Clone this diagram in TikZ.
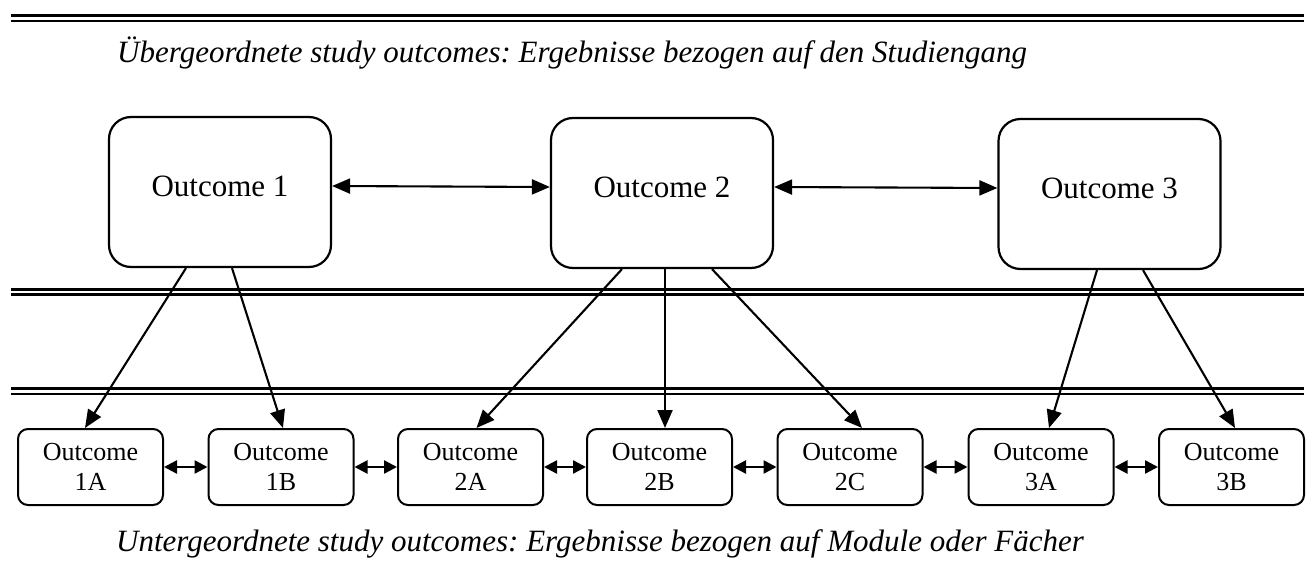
\documentclass[tikz,border=0pt]{standalone}
\usepackage{fontspec}
\setmainfont{Liberation Serif}
\usetikzlibrary{arrows.meta}
\frenchspacing

\begin{document}
\begin{tikzpicture}[x=1pt,y=-1pt,
  bigbox/.style={draw, line width=2.2pt, rounded corners=22pt,
    minimum width=222pt, minimum height=150pt, inner sep=0pt,
    text depth=12pt, font=\fontsize{31}{36}\selectfont},
  smallbox/.style={draw, line width=2pt, rounded corners=10pt,
    minimum width=145pt, minimum height=76pt, inner sep=0pt, align=center,
    font=\fontsize{26}{30}\selectfont},
  down/.style={line width=2.1pt, -{Triangle[length=18pt,width=15pt]}},
  across/.style={line width=2.1pt,
    {Triangle[length=18pt,width=15pt]}-{Triangle[length=18pt,width=15pt]}},
  neighbour/.style={line width=2.4pt,
    {Triangle[length=13pt,width=13pt]}-{Triangle[length=13pt,width=13pt]}},
  rule/.style={line width=2.6pt},
  caption/.style={font=\fontsize{31}{36}\selectfont\itshape,
    anchor=base west, inner sep=0pt}
]
\useasboundingbox (0,0) rectangle (1312,569);

% horizontal double rules
\draw[line width=3pt] (11,15.5) -- (1304,15.5);
\draw[line width=2.2pt] (11,21) -- (1304,21);
\draw[rule] (11,289.5) -- (1304,289.5);
\draw[rule] (11,294.6) -- (1304,294.6);
\draw[rule] (11,388.7) -- (1304,388.7);
\draw[rule] (11,394) -- (1304,394);

% captions
\node[caption] (top) at (117,63)
  {Übergeordnete study outcomes: Ergebnisse bezogen auf den Studiengang};
\node[caption] (bottom) at (116,551)
  {Untergeordnete study outcomes: Ergebnisse bezogen auf Module oder Fächer};

% study-level outcomes
\node[bigbox] (b1) at (220,192) {Outcome 1};
\node[bigbox] (b2) at (662,193) {Outcome 2};
\node[bigbox] (b3) at (1109.5,194) {Outcome 3};

% module-level outcomes
\node[smallbox] (s1a) at (90.5,467) {Outcome\\1A};
\node[smallbox] (s1b) at (281,467) {Outcome\\1B};
\node[smallbox] (s2a) at (470.5,467) {Outcome\\2A};
\node[smallbox] (s2b) at (659.5,467) {Outcome\\2B};
\node[smallbox] (s2c) at (850,467) {Outcome\\2C};
\node[smallbox] (s3a) at (1041,467) {Outcome\\3A};
\node[smallbox] (s3b) at (1231.5,467) {Outcome\\3B};

% links between study-level outcomes
\draw[across] ([yshift=6pt]b1.east) -- ([yshift=6pt]b2.west);
\draw[across] ([yshift=6pt]b2.east) -- ([yshift=6pt]b3.west);

% breakdown into module-level outcomes
\draw[down] ([xshift=-34pt]b1.south) -- ([xshift=-5.5pt]s1a.north);
\draw[down] ([xshift=12pt]b1.south) -- ([xshift=2pt]s1b.north);
\draw[down] ([xshift=-40pt]b2.south) -- ([xshift=6pt]s2a.north);
\draw[down] ([xshift=3pt]b2.south) -- ([xshift=5.5pt]s2b.north);
\draw[down] ([xshift=50pt]b2.south) -- ([xshift=12pt]s2c.north);
\draw[down] ([xshift=-12.5pt]b3.south) -- ([xshift=8pt]s3a.north);
\draw[down] ([xshift=33.5pt]b3.south) -- ([xshift=3.5pt]s3b.north);

% links between neighbouring module-level outcomes
\draw[neighbour] (s1a.east) -- (s1b.west);
\draw[neighbour] (s1b.east) -- (s2a.west);
\draw[neighbour] (s2a.east) -- (s2b.west);
\draw[neighbour] (s2b.east) -- (s2c.west);
\draw[neighbour] (s2c.east) -- (s3a.west);
\draw[neighbour] (s3a.east) -- (s3b.west);
\end{tikzpicture}
\end{document}
